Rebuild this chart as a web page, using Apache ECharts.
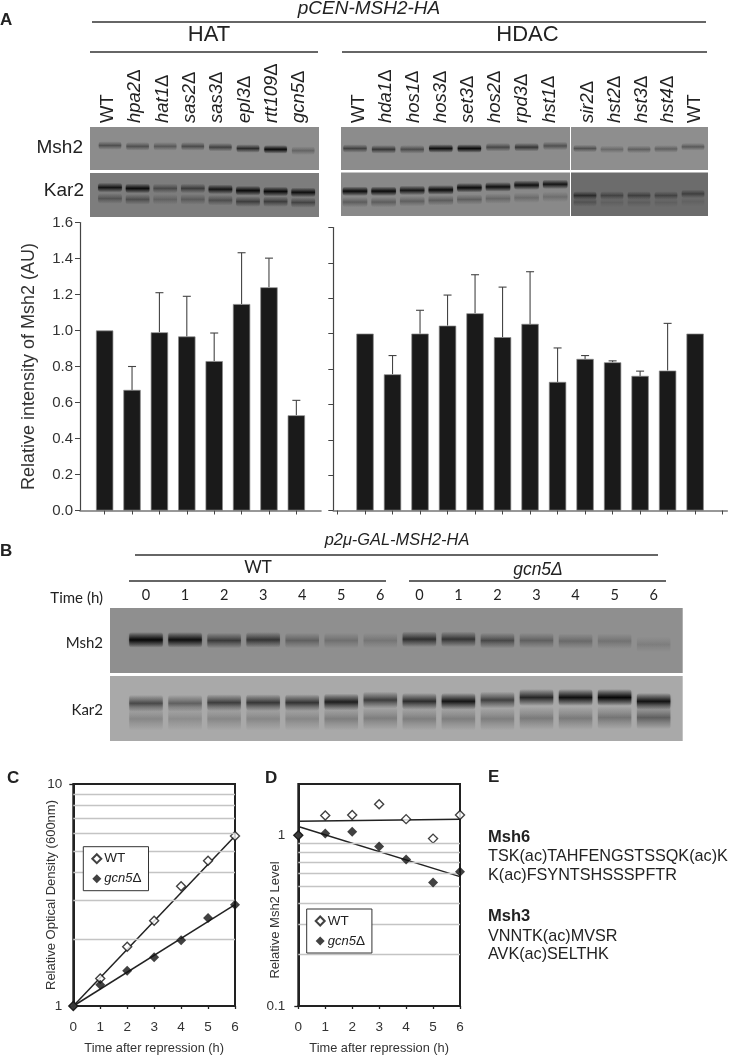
<!DOCTYPE html>
<html><head><meta charset="utf-8">
<script src="https://cdn.jsdelivr.net/npm/echarts@6/dist/echarts.min.js"></script>
<style>html,body{margin:0;padding:0;background:#fff}#c{width:730px;height:1056px}</style>
</head><body><div id="c"></div>
<script>
// ---------- Panel A bar values ----------
const hatStrains = ['WT','hpa2Δ','hat1Δ','sas2Δ','sas3Δ','epl3Δ','rtt109Δ','gcn5Δ'];
const hatMean  = [1.0,0.67,0.99,0.967,0.83,1.147,1.24,0.529];
const hatUpper = [null,0.80,1.21,1.19,0.986,1.432,1.402,0.612];
const hdacStrainsA = ['WT','hda1Δ','hos1Δ','hos3Δ','set3Δ','hos2Δ','rpd3Δ','hst1Δ'];
const hdacStrainsB = ['sir2Δ','hst2Δ','hst3Δ','hst4Δ','WT'];
const hdacMean  = [1.0,0.77,1.0,1.045,1.115,0.98,1.055,0.727,0.857,0.838,0.761,0.791,1.0];
const hdacUpper = [null,0.876,1.132,1.218,1.333,1.263,1.35,0.919,0.876,0.846,0.788,1.058,null];
const barTicks = [0,0.2,0.4,0.6,0.8,1.0,1.2,1.4,1.6];
// ---------- Panel A blot lanes: band darkness and height in panel ----------
const hatMshDark = [.42,.42,.36,.45,.52,.68,.95,.28];
const hatMshPos  = [43,45,45,45,47,50,52,55];
const hatKarDark = [.85,.95,.42,.52,.85,.95,.95,.9];
const hatKarPos  = [33,35,35,35,37,40,42,44];
const hatKar2Dark= [.33,.38,.22,.28,.38,.5,.5,.45];
const hatKar2Pos = [58,60,60,60,62,65,65,67];
const hdaMshDark = [.52,.6,.45,.9,.95,.48,.6,.42];
const hdaMshPos  = [50,52,52,50,50,47,47,44];
const hdaKarDark = [.95,.95,.85,.95,.95,.9,.9,.85];
const hdaKarPos  = [43,43,41,40,35,33,29,27];
const hdaKar2Dark= [.32,.32,.3,.32,.3,.25,.22,.2];
const hdaKar2Pos = [68,68,66,64,62,60,58,56];
const sirMshDark = [.42,.26,.32,.32,.36];
const sirMshPos  = [50,52,52,51,46];
const sirKarDark = [.6,.38,.42,.38,.42];
const sirKarPos  = [53,53,53,53,49];
const sirKar2Dark= [.25,.12,.14,.12,.1];
const sirKar2Pos = [68,69,69,69,67];
// ---------- Panel B ----------
const timeLabels = ['0','1','2','3','4','5','6','0','1','2','3','4','5','6'];
const timeMshDark = [1,.92,.58,.62,.32,.22,.18,.66,.62,.48,.32,.26,.2,.12];
const timeMshPos  = [49,49,50,49,50,50,50,48,48,50,50,51,51,56];
const timeKarDark = [.55,.42,.62,.66,.68,.82,.62,.72,.88,.6,.76,.92,1,.9];
const timeKarPos  = [42,42,41,41,41,40,37,39,39,37,33,33,33,39];
const timeKar2Dark= [.2,.17,.2,.2,.2,.25,.25,.25,.25,.25,.27,.27,.3,.42];
const timeKar2Pos = [66,66,66,66,66,66,65,66,66,66,65,65,64,64];
// ---------- Panels C and D ----------
const hours = [0,1,2,3,4,5,6];
const odWT   = [1,1.33,1.85,2.42,3.46,4.51,5.83];
const odGcn5 = [1,1.245,1.44,1.66,1.98,2.49,2.86];
const odTrendWT   = [1,5.83];
const odTrendGcn5 = [1,2.86];
const odGrid = [2,3,4,5,6,7,8,9];
const levelWT   = [1,1.307,1.318,1.523,1.245,0.957,1.318];
const levelGcn5 = [1,1.027,1.049,0.861,0.723,0.53,0.612];
const levelTrendWT   = [1.21,1.245];
const levelTrendGcn5 = [1.126,0.573];
const levelGrid = [0.2,0.3,0.4,0.5,0.6,0.7,0.8,0.9];
const trendHours = [0,6];

const FONT = '"Liberation Sans", Arial, sans-serif';
const grids = [], xAxes = [], yAxes = [], series = [];
function addAxes(grid, xAxis, yAxis){
  const i = grids.length; grids.push(grid);
  xAxes.push(Object.assign({gridIndex:i}, xAxis));
  yAxes.push(Object.assign({gridIndex:i}, yAxis));
  return i;
}
// A blot panel: a filled grid whose lanes are an axis
function blot(rect, bg, pitch, firstCenter, rows, blur, laneWidth){
  const min = (rect.x-firstCenter)/pitch, max = (rect.x+rect.w-firstCenter)/pitch;
  const i = addAxes(
    {left:rect.x, top:rect.y, width:rect.w, height:rect.h, show:true, backgroundColor:bg, borderWidth:0},
    {type:'value', min, max, show:false, splitLine:{show:false}},
    {type:'value', min:0, max:100, inverse:true, show:false, splitLine:{show:false}});
  rows.forEach(r=>{
    series.push({type:'custom', xAxisIndex:i, yAxisIndex:i, silent:true, clip:true, z:2,
      data:r.dark.map((d,k)=>[k,r.pos[k],d,r.thick]),
      encode:{x:0,y:1},
      renderItem:(p,api)=>{
        const a=api.coord([api.value(0)-laneWidth/2, api.value(1)-api.value(3)]);
        const b=api.coord([api.value(0)+laneWidth/2, api.value(1)+api.value(3)]);
        const d=api.value(2), rgba=k=>'rgba(8,8,8,'+(d*k)+')';
        return {type:'rect', shape:{x:a[0],y:a[1],width:b[0]-a[0],height:b[1]-a[1],r:3},
          style:{fill:{type:'linear',x:0,y:0,x2:0,y2:1,colorStops:[
              {offset:0,color:rgba(0)},{offset:.3,color:rgba(.55)},{offset:.5,color:rgba(1)},{offset:.7,color:rgba(.55)},{offset:1,color:rgba(0)}]},
            shadowBlur:blur, shadowColor:rgba(.35)}};
      }});
  });
}
// Rotated lane labels
function strainLabels(names,left,width){
  const fmt=v=>{const n=names[Math.round(v)]; return n==='WT'?'{u|WT}':'{i|'+n.slice(0,-1)+'}{u|Δ}';};
  addAxes({left,top:123,width,height:1,show:false},
    {type:'value',position:'top',min:0,max:names.length-1,axisLine:{show:false},axisTick:{show:false},splitLine:{show:false},
     axisLabel:{show:true,customValues:names.map((_,k)=>k),rotate:90,margin:0,hideOverlap:false,showMinLabel:true,showMaxLabel:true,formatter:fmt,
       rich:{i:{fontStyle:'italic',fontSize:18.5,fontFamily:FONT,color:'#222'},u:{fontSize:18.5,fontFamily:FONT,color:'#222'}}}},
    {type:'value',min:0,max:1,show:false,splitLine:{show:false}});
}
// Bar chart with whiskers
function barChart(rect,means,uppers,xMin,xMax,tickVals,showLabels,name){
  const i=addAxes({left:rect.x,top:rect.y,width:rect.w,height:rect.h},
    {type:'value',min:xMin,max:xMax,splitLine:{show:false},
     axisLine:{onZero:false,lineStyle:{color:'#777',width:1.6}},axisLabel:{show:false},
     axisTick:{customValues:tickVals,length:4,lineStyle:{color:'#444',width:1}}},
    {type:'value',min:0,max:1.6,interval:0.2,splitLine:{show:false},
     axisLine:{show:true,onZero:false,lineStyle:{color:'#444',width:1.2}},
     axisTick:{show:true,length:5,lineStyle:{color:'#444',width:1}},
     axisLabel:{show:showLabels,margin:7,fontSize:15,color:'#333',fontFamily:FONT,formatter:v=>barTicks.includes(+v.toFixed(1))?v.toFixed(1):''},
     name,nameLocation:'middle',nameGap:42,nameMoveOverlap:false,nameTextStyle:{fontSize:18,color:'#333',fontFamily:FONT}});
  series.push({type:'bar',xAxisIndex:i,yAxisIndex:i,barWidth:17.3,silent:true,
    data:means.map((m,k)=>[k,m]),
    itemStyle:{color:'#1a1a1a',borderColor:'#8a8a8a',borderWidth:0.7}});
  series.push({type:'custom',xAxisIndex:i,yAxisIndex:i,silent:true,z:1,
    data:uppers.map((u,k)=>[k,means[k],u]).filter(d=>d[2]!==null),encode:{x:0,y:[1,2]},
    renderItem:(p,api)=>{
      const a=api.coord([api.value(0),api.value(1)]),b=api.coord([api.value(0),api.value(2)]);
      const s={stroke:'#444',lineWidth:1.1,fill:null};
      return {type:'group',children:[
        {type:'line',shape:{x1:a[0],y1:a[1],x2:b[0],y2:b[1]},style:s},
        {type:'line',shape:{x1:b[0]-4,y1:b[1],x2:b[0]+4,y2:b[1]},style:s}]};
    }});
}
// Log-scale time course
function timeCourse(rect,yMin,yMax,yFmt,yName,gridVals,wt,gcn,trendWT,trendGcn,labelMargin,yTicks){
  const i=addAxes({left:rect.x,top:rect.y,width:rect.w,height:rect.h,show:true,borderColor:'#222',borderWidth:2,backgroundColor:'transparent'},
    {type:'value',min:0,max:6,interval:1,splitLine:{show:false},
     axisLine:{lineStyle:{color:'#222',width:2}},
     axisTick:{length:3,lineStyle:{color:'#222',width:1.3}},
     axisLabel:{margin:14,fontSize:13.5,color:'#333',fontFamily:FONT},
     name:'Time after repression (h)',nameLocation:'middle',nameGap:36,nameMoveOverlap:false,nameTextStyle:{fontSize:12.8,color:'#333',fontFamily:FONT}},
    {type:'log',logBase:10,min:yMin,max:yMax,splitLine:{show:false},minorTick:{show:false},
     axisLine:{show:true,lineStyle:{color:'#222',width:2}},
     axisTick:{show:true,length:4,customValues:yTicks,lineStyle:{color:'#222',width:1.3}},
     axisLabel:{margin:labelMargin,fontSize:13.5,color:'#333',fontFamily:FONT,formatter:yFmt},
     name:yName,nameLocation:'middle',nameGap:15,nameMoveOverlap:false,nameTextStyle:{fontSize:13,color:'#333',fontFamily:FONT}});
  const common={xAxisIndex:i,yAxisIndex:i,silent:true};
  series.push(Object.assign({type:'line',name:'rules',data:[],z:1,showSymbol:false,
    markLine:{silent:true,symbol:'none',label:{show:false},animation:false,
      lineStyle:{color:'#c4c4c4',width:1.4,type:'solid'},data:gridVals.map(v=>({yAxis:v}))}},common));
  [trendWT,trendGcn].forEach((t,n)=>series.push(Object.assign({type:'line',name:n?'trendGcn':'trendWT',showSymbol:false,z:3,clip:false,
    data:trendHours.map((h,k)=>[h,t[k]]),lineStyle:{color:'#222',width:1.5}},common)));
  series.push(Object.assign({type:'scatter',name:'WT',symbol:'diamond',symbolSize:9,z:4,clip:false,
    data:hours.map((h,k)=>[h,wt[k]]),itemStyle:{color:'#fff',borderColor:'#111',borderWidth:1.4}},common));
  series.push(Object.assign({type:'scatter',name:'gcn5Δ',symbol:'diamond',symbolSize:10,z:5,clip:false,
    data:hours.map((h,k)=>[h,gcn[k]]),itemStyle:{color:'#111'}},common));
}
const legendOf=(left,top)=>({left,top,orient:'vertical',data:['WT','gcn5Δ'],selectedMode:false,icon:'diamond',
  itemWidth:9,itemHeight:9,itemGap:6,padding:[5,7,5,8],backgroundColor:'#fff',borderColor:'#333',borderWidth:1,z:6,
  formatter:n=>n==='WT'?'{u|WT}':'{i|gcn5}{u|Δ}',
  textStyle:{fontFamily:FONT,fontSize:13,color:'#222',padding:[0,0,0,-2],rich:{u:{fontSize:13.5,fontFamily:FONT,color:'#222'},i:{fontSize:13,fontStyle:'italic',fontFamily:FONT,color:'#222'}}}});

// ---------- build ----------
blot({x:90,y:127,w:229,h:43},'#8c8c8c',27.6,110,[{dark:hatMshDark,pos:hatMshPos,thick:10}],2,.82);
blot({x:90,y:173,w:229,h:44},'#7d7d7d',27.6,110,[{dark:hatKarDark,pos:hatKarPos,thick:11},{dark:hatKar2Dark,pos:hatKar2Pos,thick:12}],2,.86);
blot({x:341,y:127,w:229,h:43},'#8c8c8c',28.6,355,[{dark:hdaMshDark,pos:hdaMshPos,thick:10}],2,.82);
blot({x:341,y:172.5,w:229,h:43.5},'#898989',28.6,355,[{dark:hdaKarDark,pos:hdaKarPos,thick:11},{dark:hdaKar2Dark,pos:hdaKar2Pos,thick:12}],2,.86);
blot({x:571,y:127,w:137,h:43},'#8e8e8e',27,585,[{dark:sirMshDark,pos:sirMshPos,thick:9}],2,.84);
blot({x:571,y:172.5,w:137,h:43.5},'#6c6c6c',27,585,[{dark:sirKarDark,pos:sirKarPos,thick:10},{dark:sirKar2Dark,pos:sirKar2Pos,thick:11}],2,.84);
strainLabels(hatStrains,108,191.1);
strainLabels(hdacStrainsA,359,190.4);
strainLabels(hdacStrainsB,588.3,106.7);
barChart({x:80,y:222.5,w:241,h:288},hatMean,hatUpper,-0.9,7.9,[0,1,2,3,4,5,6,7],true,'Relative intensity of Msh2 (AU)');
barChart({x:333.3,y:227.5,w:394,h:283},hdacMean,hdacUpper,-1.153,13.17,[-1,0,1,2,3,4,5,6,7,8,9,10,11,12,13],false,'');
blot({x:110,y:608,w:572.7,h:65},'#8f8f8f',39.05,146,[{dark:timeMshDark,pos:timeMshPos,thick:12}],3,.86);
blot({x:110,y:676,w:572.7,h:65},'#a9a9a9',39.05,146,[{dark:timeKarDark,pos:timeKarPos,thick:13},{dark:timeKar2Dark,pos:timeKar2Pos,thick:18}],3,.86);
timeCourse({x:73.3,y:784,w:161.7,h:227.7},1,10,v=>String(Math.round(v)),'Relative Optical Density (600nm)',odGrid,odWT,odGcn5,odTrendWT,odTrendGcn5,11,[1,10]);
timeCourse({x:298.3,y:784,w:161.7,h:227.7},0.1,2,v=>(Math.abs(v-0.1)<1e-6?'0.1':Math.abs(v-1)<1e-6?'1':''),'',levelGrid,levelWT,levelGcn5,levelTrendWT,levelTrendGcn5,13,[0.1]);

const txt=(x,y,text,font,align,fill)=>({type:'text',silent:true,style:{x,y,text,font,textAlign:align||'left',textVerticalAlign:'middle',fill:fill||'#222'}});
const rule=(x1,x2,y)=>({type:'line',silent:true,shape:{x1,y1:y,x2,y2:y},style:{stroke:'#333',lineWidth:1.3}});
const ar=s=>s+' "Liberation Sans", Arial, sans-serif', la=s=>s+' Lato, sans-serif';
const graphicEls=[
  txt(0,20,'A',ar('bold 17px')),txt(0,551,'B',ar('bold 17px')),txt(7,778,'C',ar('bold 17px')),txt(265,778,'D',ar('bold 17px')),txt(488,777,'E',ar('bold 17px')),
  txt(369,9,'pCEN-MSH2-HA',ar('italic 19px'),'center'),
  rule(92,706,22),rule(90,318,52),rule(342,707,52),
  txt(209,35,'HAT',ar('22px'),'center'),txt(527.5,35,'HDAC',ar('22px'),'center'),
  txt(83,148,'Msh2',ar('19px'),'right'),txt(84,191,'Kar2',ar('19px'),'right'),
  txt(397,540,'p2μ-GAL-MSH2-HA',ar('italic 16.4px'),'center'),
  rule(135,658,555),rule(129,386,581),rule(409,666,581),
  txt(258,568,'WT',la('17px'),'center'),
  txt(538,570,'gcn5Δ',ar('italic 17.5px'),'center'),
  txt(103,598,'Time (h)',la('15px'),'right'),txt(103,643,'Msh2',la('15px'),'right'),txt(103,710,'Kar2',la('15px'),'right'),
  ...timeLabels.map((t,k)=>txt(146+k*39.05,595,t,la('14.5px'),'center')),
  txt(488,837,'Msh6',ar('bold 16.5px')),txt(488,857,'TSK(ac)TAHFENGSTSSQK(ac)K',ar('16.2px')),txt(488,876,'K(ac)FSYNTSHSSSPFTR',ar('16.2px')),
  txt(488,916,'Msh3',ar('bold 16.5px')),txt(488,937,'VNNTK(ac)MVSR',ar('16.2px')),txt(488,955,'AVK(ac)SELTHK',ar('16.2px')),
  {type:'text',silent:true,x:275.7,y:920,rotation:Math.PI/2,style:{x:0,y:0,text:'Relative Msh2 Level',font:ar('13px'),textAlign:'center',textVerticalAlign:'middle',fill:'#333'}}
];
const chart=echarts.init(document.getElementById('c'),null,{renderer:'canvas'});
chart.setOption({animation:false,backgroundColor:'#fff',textStyle:{fontFamily:FONT},
  grid:grids,xAxis:xAxes,yAxis:yAxes,series,legend:[legendOf(83.3,846.7),legendOf(306.7,909)],graphic:{elements:graphicEls}});
</script></body></html>
